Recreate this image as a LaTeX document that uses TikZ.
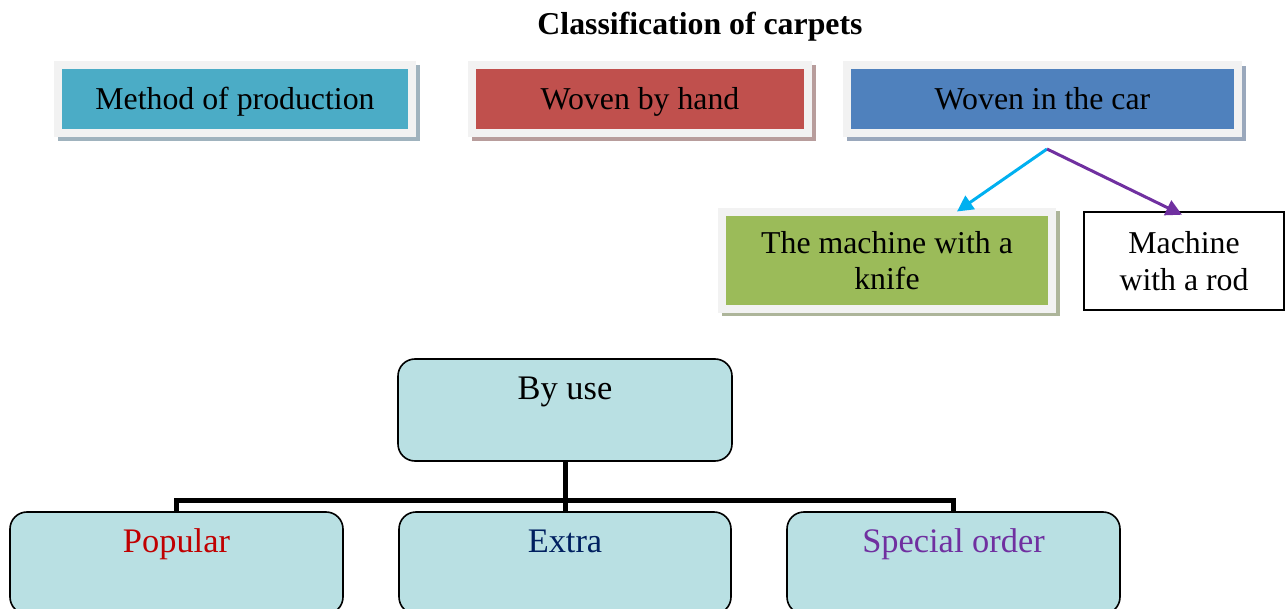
\documentclass[tikz,border=0pt]{standalone}
\usepackage{fontspec}
\setmainfont{Liberation Serif}
\usetikzlibrary{arrows.meta,calc}
\definecolor{framegray}{HTML}{F2F2F2}
\definecolor{methodfill}{HTML}{4BACC6}
\definecolor{handfill}{HTML}{C0504D}
\definecolor{carfill}{HTML}{4F81BD}
\definecolor{knifefill}{HTML}{9BBB59}
\definecolor{methodshadow}{HTML}{A0B3BE}
\definecolor{handshadow}{HTML}{B89D9C}
\definecolor{carshadow}{HTML}{9AA8BC}
\definecolor{knifeshadow}{HTML}{ADB59A}
\definecolor{usefill}{HTML}{B9E0E3}
\definecolor{arrowcyan}{HTML}{00B0F0}
\definecolor{arrowpurple}{HTML}{7030A0}
\definecolor{popred}{HTML}{C00000}
\definecolor{extranavy}{HTML}{002060}
\definecolor{specialpurple}{HTML}{7030A0}
\newcommand{\mainsize}{\fontsize{31.8}{36.5}\selectfont}
\newcommand{\bigsize}{\fontsize{34.4}{40}\selectfont}
\begin{document}
\begin{tikzpicture}[x=1pt,y=-1pt,
  tbox/.style={draw=framegray, line width=8pt, inner sep=0pt, minimum height=68pt,
    font=\mainsize, text height=28pt, text depth=7pt},
  mbox/.style={draw=framegray, line width=8pt, inner sep=0pt, align=center, font=\mainsize},
  plainbox/.style={draw=black, line width=1.5pt, inner sep=0pt, align=center, font=\mainsize, fill=white},
  rbox/.style={draw=black, line width=1.6pt, rounded corners=17pt, fill=usefill, inner sep=0pt,
    minimum height=102pt, text height=40.5pt, text depth=61.5pt, font=\bigsize},
  conn/.style={line width=5pt},
  tip/.style={-{Triangle[length=16pt,width=16pt]}, line width=3pt}
]
\useasboundingbox (0,0) rectangle (1285,609);
\clip (0,0) rectangle (1285,609);

% title
\node[anchor=base, font=\mainsize\bfseries] (title) at (700,35) {Classification of carpets};

% shadows
\fill[methodshadow] (58,65) rectangle (420,141);
\fill[handshadow] (472,65) rectangle (816,141);
\fill[carshadow] (847,66) rectangle (1246,141);
\fill[knifeshadow] (722,211) rectangle (1060,316);

% top boxes
\node[tbox, fill=methodfill, minimum width=354pt] (method) at (235,99) {Method of production};
\node[tbox, fill=handfill, minimum width=336pt] (hand) at (640,99) {Woven by hand};
\node[tbox, fill=carfill, minimum width=391pt] (car) at (1042.5,99) {Woven in the car};

\node[mbox, fill=knifefill, minimum width=330pt, minimum height=97pt] (knife) at (887,260.5) {The machine with a\\knife};
\node[plainbox, minimum width=200pt, minimum height=98pt] (rod) at (1184,261) {Machine\\with a rod};

\coordinate (split) at (1047,149);
\draw[tip, arrowcyan] (split) -- ([xshift=70pt,yshift=-3.5pt]knife.north);
\draw[tip, arrowpurple] (split) -- ([xshift=-2pt,yshift=-3.5pt]rod.north);

% by use tree
\node[rbox, minimum width=334pt] (byuse) at (565,410) {By use};
\node[rbox, minimum width=333pt, text=popred] (popular) at (176.5,563) {Popular};
\node[rbox, minimum width=332pt, text=extranavy] (extra) at (565,563) {Extra};
\node[rbox, minimum width=333pt, text=specialpurple] (special) at (953.5,563) {Special order};

\draw[conn] (byuse.south) -- (extra.north);
\draw[conn] (popular.north) -- ++(0,-11) -| (special.north);
\end{tikzpicture}
\end{document}
